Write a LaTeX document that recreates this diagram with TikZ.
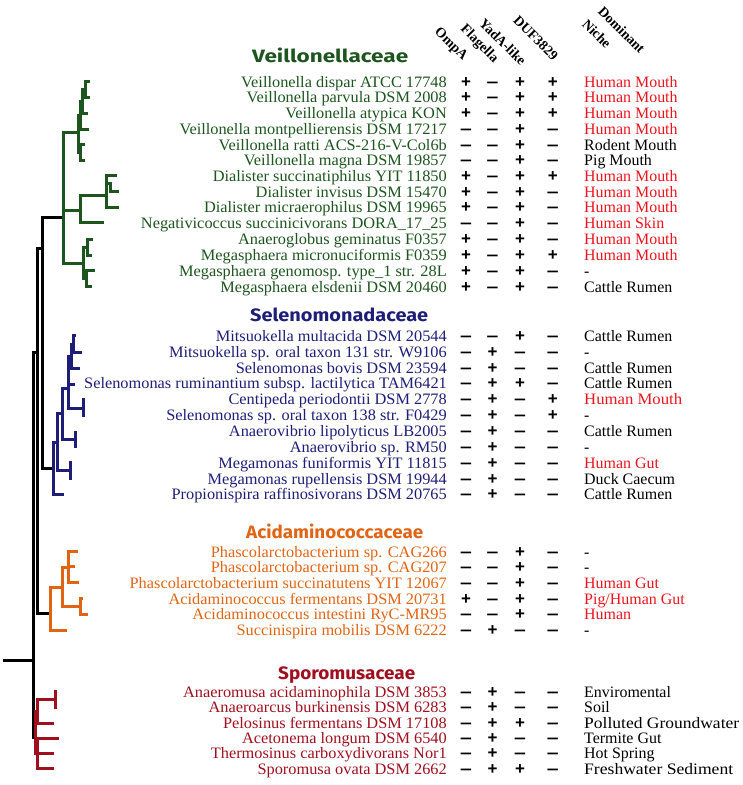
\documentclass[tikz,border=0pt]{standalone}
\usepackage{fontspec}
\setmainfont{Liberation Serif}
\newfontfamily\famfont{Fira Sans}
\newfontfamily\signfont{Liberation Sans}
\definecolor{vgreen}{RGB}{28,85,30}
\definecolor{sblue}{RGB}{30,30,120}
\definecolor{aorange}{RGB}{225,100,20}
\definecolor{sred}{RGB}{160,15,30}
\definecolor{nred}{RGB}{235,20,30}
\tikzset{
  taxon/.style={anchor=base east, inner sep=0pt, font=\fontsize{16}{16}\selectfont},
  sgn/.style={anchor=base, inner sep=0pt, font=\signfont\bfseries\fontsize{17}{17}\selectfont},
  niche/.style={anchor=base west, inner sep=0pt, font=\fontsize{16}{16}\selectfont},
  colhead/.style={anchor=east, rotate=-45, inner sep=0pt, font=\bfseries\fontsize{14}{14}\selectfont},
  family/.style={anchor=base west, inner sep=0pt, font=\famfont\bfseries\fontsize{18}{18}\selectfont},
  branch/.style={line width=3bp, line cap=rect},
}
\def\famcol{black}
\newcommand\sgm{\scalebox{1.25}[1]{–}}
\newcommand\sgp{+}
\newcommand\wide[2]{\resizebox{#1}{\height}{#2}}
\newcommand\trow[9]{%
  \node[taxon, text=\famcol] (t#1) at (447,#2+5.5) {\scalebox{1.025}[1]{#3}};
  \node[sgn] (a#1) at (466,#2+5.5) {#4};
  \node[sgn] (b#1) at (492.5,#2+5.5) {#5};
  \node[sgn] (c#1) at (520,#2+5.5) {#6};
  \node[sgn] (d#1) at (552.7,#2+5.5) {#7};
  \node[niche, text=#8] (h#1) at (584,#2+5.5) {#9};
}
\begin{document}
\begin{tikzpicture}[x=1bp,y=-1bp]
\useasboundingbox (0,0) rectangle (743,785);
% column heads
\node[colhead] (hOmp) at (465,59) {OmpA};
\node[colhead] (hFla) at (496,61) {Flagella};
\node[colhead] (hYad) at (524,63) {YadA-like};
\node[colhead] (hDUF) at (556,58) {DUF3829};
\node[colhead] (hNic) at (609,46) {Niche};
\node[colhead] (hDom) at (643,51) {Dominant};
% families
\node[family, text=vgreen] (f1) at (252,63) {\wide{156bp}{Veillonellaceae}};
\node[family, text=sblue] (f2) at (250,321) {\wide{178bp}{Selenomonadaceae}};
\node[family, text=aorange] (f3) at (246,538) {\wide{177bp}{Acidaminococcaceae}};
\node[family, text=sred] (f4) at (278,679) {\wide{137bp}{Sporomusaceae}};
% Veillonellaceae
\def\famcol{vgreen}
\trow{1}{81.7}{Veillonella dispar ATCC 17748}{\sgp}{\sgm}{\sgp}{\sgp}{nred}{Human Mouth}
\trow{2}{97.3}{Veillonella parvula DSM 2008}{\sgp}{\sgm}{\sgp}{\sgp}{nred}{Human Mouth}
\trow{3}{113.3}{Veillonella atypica KON}{\sgp}{\sgm}{\sgp}{\sgp}{nred}{Human Mouth}
\trow{4}{129}{Veillonella montpellierensis DSM 17217}{\sgm}{\sgm}{\sgp}{\sgm}{nred}{Human Mouth}
\trow{5}{144.5}{Veillonella ratti ACS-216-V-Col6b}{\sgm}{\sgm}{\sgp}{\sgm}{black}{Rodent Mouth}
\trow{6}{160}{Veillonella magna DSM 19857}{\sgm}{\sgm}{\sgp}{\sgm}{black}{Pig Mouth}
\trow{7}{176}{Dialister succinatiphilus YIT 11850}{\sgp}{\sgm}{\sgp}{\sgp}{nred}{Human Mouth}
\trow{8}{191.7}{Dialister invisus DSM 15470}{\sgp}{\sgm}{\sgp}{\sgm}{nred}{Human Mouth}
\trow{9}{207.3}{Dialister micraerophilus DSM 19965}{\sgp}{\sgm}{\sgp}{\sgm}{nred}{Human Mouth}
\trow{10}{223.2}{Negativicoccus succinicivorans DORA\_17\_25}{\sgm}{\sgm}{\sgp}{\sgm}{nred}{Human Skin}
\trow{11}{239.2}{Anaeroglobus geminatus F0357}{\sgp}{\sgm}{\sgp}{\sgm}{nred}{Human Mouth}
\trow{12}{255}{Megasphaera micronuciformis F0359}{\sgp}{\sgm}{\sgp}{\sgp}{nred}{Human Mouth}
\trow{13}{270.8}{Megasphaera genomosp. type\_1 str. 28L}{\sgp}{\sgm}{\sgp}{\sgm}{black}{-}
\trow{14}{286.6}{Megasphaera elsdenii DSM 20460}{\sgp}{\sgm}{\sgp}{\sgm}{black}{Cattle Rumen}
% Selenomonadaceae
\def\famcol{sblue}
\trow{15}{335.7}{Mitsuokella multacida DSM 20544}{\sgm}{\sgm}{\sgp}{\sgm}{black}{Cattle Rumen}
\trow{16}{351.6}{Mitsuokella sp. oral taxon 131 str. W9106}{\sgm}{\sgp}{\sgm}{\sgm}{black}{-}
\trow{17}{367.5}{Selenomonas bovis DSM 23594}{\sgm}{\sgp}{\sgm}{\sgm}{black}{Cattle Rumen}
\trow{18}{383.4}{Selenomonas ruminantium subsp. lactilytica TAM6421}{\sgm}{\sgp}{\sgp}{\sgm}{black}{Cattle Rumen}
\trow{19}{399.3}{Centipeda periodontii DSM 2778}{\sgm}{\sgp}{\sgm}{\sgp}{nred}{\wide{98bp}{Human Mouth}}
\trow{20}{415.2}{Selenomonas sp. oral taxon 138 str. F0429}{\sgm}{\sgp}{\sgm}{\sgp}{black}{-}
\trow{21}{431.1}{Anaerovibrio lipolyticus LB2005}{\sgm}{\sgp}{\sgm}{\sgm}{black}{Cattle Rumen}
\trow{22}{447}{Anaerovibrio sp. RM50}{\sgm}{\sgp}{\sgm}{\sgm}{black}{-}
\trow{23}{462.8}{Megamonas funiformis YIT 11815}{\sgm}{\sgp}{\sgm}{\sgm}{nred}{Human Gut}
\trow{24}{478.6}{Megamonas rupellensis DSM 19944}{\sgm}{\sgp}{\sgm}{\sgm}{black}{Duck Caecum}
\trow{25}{494.4}{Propionispira raffinosivorans DSM 20765}{\sgm}{\sgp}{\sgm}{\sgm}{black}{Cattle Rumen}
% Acidaminococcaceae
\def\famcol{aorange}
\trow{26}{551.7}{Phascolarctobacterium sp. CAG266}{\sgm}{\sgm}{\sgp}{\sgm}{black}{-}
\trow{27}{567.3}{Phascolarctobacterium sp. CAG207}{\sgm}{\sgm}{\sgp}{\sgm}{black}{-}
\trow{28}{582.9}{Phascolarctobacterium succinatutens YIT 12067}{\sgm}{\sgm}{\sgp}{\sgm}{nred}{Human Gut}
\trow{29}{598.5}{Acidaminococcus fermentans DSM 20731}{\sgp}{\sgm}{\sgp}{\sgm}{nred}{Pig/Human Gut}
\trow{30}{614.1}{Acidaminococcus intestini RyC-MR95}{\sgm}{\sgm}{\sgp}{\sgm}{nred}{Human}
\trow{31}{629.8}{Succinispira mobilis DSM 6222}{\sgm}{\sgp}{\sgm}{\sgm}{black}{-}
% Sporomusaceae
\def\famcol{sred}
\trow{32}{691.7}{Anaeromusa acidaminophila DSM 3853}{\sgm}{\sgp}{\sgm}{\sgm}{black}{Enviromental}
\trow{33}{707.1}{Anaeroarcus burkinensis DSM 6283}{\sgm}{\sgp}{\sgm}{\sgm}{black}{Soil}
\trow{34}{722.6}{Pelosinus fermentans DSM 17108}{\sgm}{\sgp}{\sgp}{\sgm}{black}{\wide{155bp}{Polluted Groundwater}}
\trow{35}{738}{Acetonema longum DSM 6540}{\sgm}{\sgp}{\sgm}{\sgm}{black}{Termite Gut}
\trow{36}{753.3}{Thermosinus carboxydivorans Nor1}{\sgm}{\sgp}{\sgm}{\sgm}{black}{Hot Spring}
\trow{37}{768.5}{Sporomusa ovata DSM 2662}{\sgm}{\sgp}{\sgp}{\sgm}{black}{\wide{149bp}{Freshwater Sediment}}
% ---- tree ----
% black backbone
\draw[branch, black] (4,660) -- (33,660);
\draw[branch, black] (33,352) -- (33,737);
\draw[branch, black] (33,352) -- (37,352);
\draw[branch, black] (37,248) -- (37,613) -- (50,613);
\draw[branch, black] (37,248) -- (42,248);
\draw[branch, black] (63,217) -- (42,217) -- (42,468) -- (53,468);
% green
\begin{scope}[vgreen]
\draw[branch] (63,132) -- (63,263);
\draw[branch] (63,132) -- (78,132);
\draw[branch] (78,115) -- (78,152);
\draw[branch] (78,115) -- (80,115);
\draw[branch] (80,101) -- (80,129) -- (87,129);
\draw[branch] (80,101) -- (82,101);
\draw[branch] (82,89.5) -- (82,113.3) -- (86,113.3);
\draw[branch] (82,89.5) -- (85,89.5);
\draw[branch] (88,81.7) -- (85,81.7) -- (85,97.3) -- (88,97.3);
\draw[branch] (78,152) -- (80.5,152);
\draw[branch] (83,144.3) -- (80.5,144.3) -- (80.5,160) -- (83,160);
\draw[branch] (63,210) -- (80,210);
\draw[branch] (106,195) -- (80,195) -- (80,222.5) -- (102,222.5);
\draw[branch] (115,175.7) -- (106,175.7) -- (106,207.3) -- (117,207.3);
\draw[branch] (106,183) -- (110,183) -- (110,191.7) -- (117,191.7);
\draw[branch] (63,263) -- (83,263);
\draw[branch] (87,247) -- (83,247) -- (83,278.7) -- (86,278.7);
\draw[branch] (91,239.3) -- (87,239.3) -- (87,255) -- (90,255);
\draw[branch] (93,270.7) -- (86,270.7) -- (86,286.7) -- (90,286.7);
\end{scope}
% blue
\begin{scope}[sblue]
\draw[branch] (74,335.7) -- (73,335.7) -- (73,352.3) -- (80,352.3);
\draw[branch] (73,344) -- (71,344) -- (71,368.3) -- (78,368.3);
\draw[branch] (71,356) -- (68,356) -- (68,408) -- (83,408);
\draw[branch] (68,384.3) -- (73,384.3);
\draw[branch] (83,399.3) -- (83,415.7);
\draw[branch] (68,388) -- (62,388) -- (62,439.5) -- (75,439.5);
\draw[branch] (75,432.3) -- (75,446.7);
\draw[branch] (62,413) -- (57,413) -- (57,470.5) -- (70,470.5);
\draw[branch] (70,462.7) -- (70,478.3);
\draw[branch] (57,442) -- (53,442) -- (53,494.3) -- (62,494.3);
\end{scope}
% orange
\begin{scope}[aorange]
\draw[branch] (76,551.7) -- (68,551.7) -- (68,582.7) -- (77,582.7);
\draw[branch] (68,566.7) -- (73,566.7);
\draw[branch] (68,567) -- (62,567) -- (62,606) -- (80,606);
\draw[branch] (81,598.3) -- (80,598.3) -- (80,614) -- (86,614);
\draw[branch] (62,587) -- (50,587) -- (50,630) -- (65,630);
\end{scope}
% red
\begin{scope}[sred]
\draw[branch] (35,711) -- (35,753);
\draw[branch] (35,711) -- (37.5,711);
\draw[branch] (55,699.5) -- (37.5,699.5) -- (37.5,723.3) -- (52,723.3);
\draw[branch] (55,691.7) -- (55,707.3);
\draw[branch] (35,753) -- (37.5,753);
\draw[branch] (57,738.3) -- (37.5,738.3) -- (37.5,768.3) -- (52,768.3);
\draw[branch] (37.5,753.3) -- (52,753.3);
\end{scope}
\end{tikzpicture}
\end{document}
